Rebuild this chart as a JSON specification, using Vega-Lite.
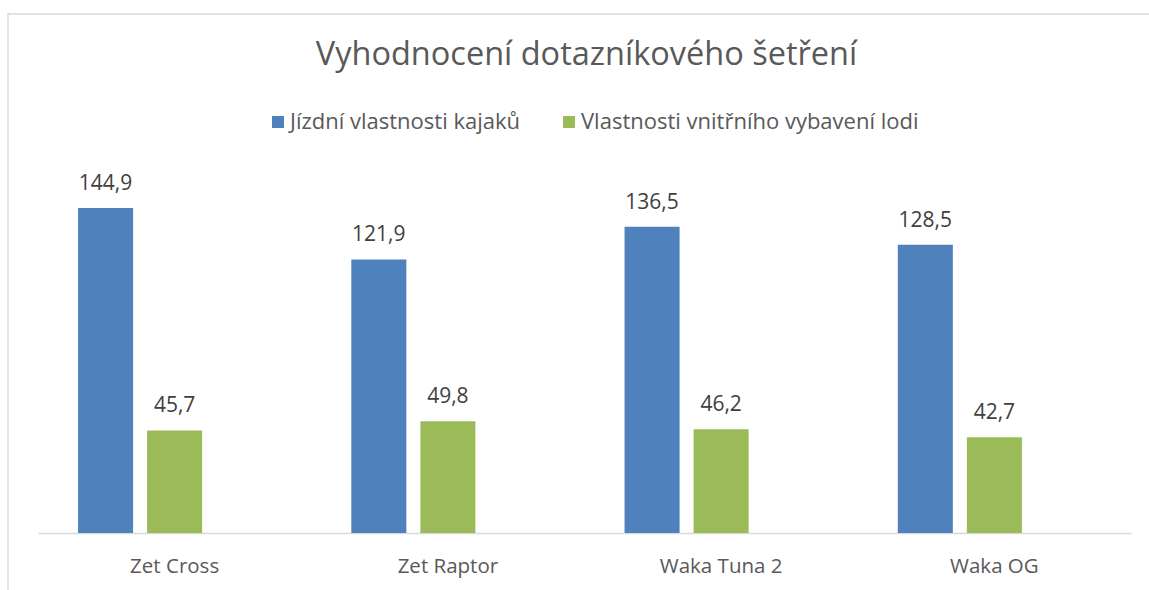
{
  "$schema": "https://vega.github.io/schema/vega-lite/v6.json",
  "width": 1143,
  "height": 578,
  "autosize": "none",
  "padding": {"left": 8, "top": 14, "right": -2, "bottom": -2},
  "config": {
    "locale": {"number": {"decimal": ",", "thousands": " ", "grouping": [3], "currency": ["", " Kč"]}},
    "view": {"stroke": "#D9D9D9", "strokeWidth": 1.5},
    "font": "Open Sans"
  },
  "title": {
    "text": "Vyhodnocení dotazníkového šetření",
    "anchor": "middle",
    "frame": "group",
    "fontSize": 32.5,
    "font": "Open Sans",
    "fontWeight": "normal",
    "color": "#595959",
    "baseline": "alphabetic",
    "offset": -83,
    "dx": 7
  },
  "data": {
    "values": [
      {"model": "Zet Cross", "series": "Jízdní vlastnosti kajaků", "value": 144.9},
      {"model": "Zet Cross", "series": "Vlastnosti vnitřního vybavení lodi", "value": 45.7},
      {"model": "Zet Raptor", "series": "Jízdní vlastnosti kajaků", "value": 121.9},
      {"model": "Zet Raptor", "series": "Vlastnosti vnitřního vybavení lodi", "value": 49.8},
      {"model": "Waka Tuna 2", "series": "Jízdní vlastnosti kajaků", "value": 136.5},
      {"model": "Waka Tuna 2", "series": "Vlastnosti vnitřního vybavení lodi", "value": 46.2},
      {"model": "Waka OG", "series": "Jízdní vlastnosti kajaků", "value": 128.5},
      {"model": "Waka OG", "series": "Vlastnosti vnitřního vybavení lodi", "value": 42.7}
    ]
  },
  "encoding": {
    "x": {
      "field": "model",
      "type": "nominal",
      "sort": ["Zet Cross", "Zet Raptor", "Waka Tuna 2", "Waka OG"],
      "scale": {"range": [30, 1123], "paddingInner": 0, "paddingOuter": 0},
      "axis": {
        "orient": "bottom",
        "offset": -59,
        "ticks": false,
        "tickSize": 0,
        "domainColor": "#D9D9D9",
        "domainWidth": 1.5,
        "labelColor": "#595959",
        "labelFontSize": 20.5,
        "labelFont": "Open Sans",
        "labelBaseline": "alphabetic",
        "labelPadding": 39,
        "labelAngle": 0,
        "title": null
      }
    },
    "xOffset": {
      "field": "series",
      "type": "nominal",
      "scale": {
        "domain": ["Jízdní vlastnosti kajaků", "Vlastnosti vnitřního vybavení lodi", "(prázdná řada)"],
        "paddingInner": 0.203,
        "paddingOuter": 0.58
      }
    },
    "y": {
      "field": "value",
      "type": "quantitative",
      "scale": {"domain": [0, 160], "range": [519, 160]},
      "axis": null
    }
  },
  "layer": [
    {
      "mark": {"type": "bar"},
      "encoding": {
        "color": {
          "field": "series",
          "type": "nominal",
          "scale": {
            "domain": ["Jízdní vlastnosti kajaků", "Vlastnosti vnitřního vybavení lodi"],
            "range": ["#4F81BD", "#9BBB59"]
          },
          "legend": {
            "title": null,
            "orient": "none",
            "direction": "horizontal",
            "legendX": 259,
            "legendY": 97,
            "padding": 0,
            "symbolType": "square",
            "symbolSize": 144,
            "symbolStrokeWidth": 0,
            "labelFontSize": 22,
            "labelFont": "Open Sans",
            "labelColor": "#595959",
            "labelOffset": 1,
            "columnPadding": 37,
            "labelLimit": 600
          }
        }
      }
    },
    {
      "mark": {"type": "text", "dy": -18, "baseline": "alphabetic", "fontSize": 21, "font": "Open Sans", "color": "#404040"},
      "encoding": {
        "text": {"field": "value", "type": "quantitative", "format": ".1f"}
      }
    }
  ]
}
